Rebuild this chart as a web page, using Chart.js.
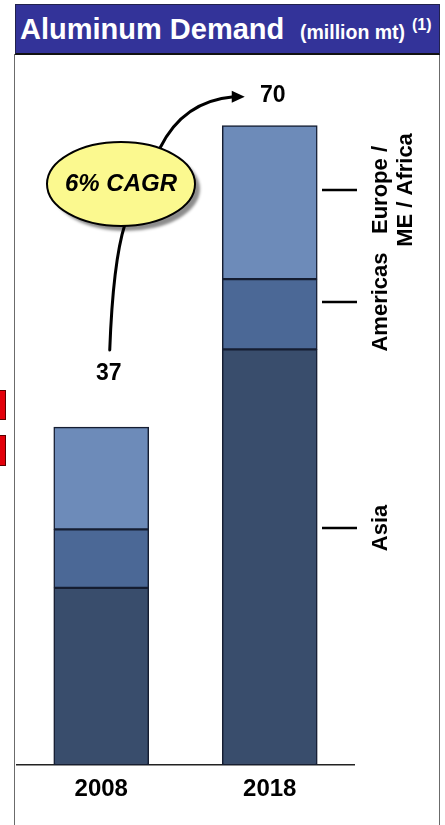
<!DOCTYPE html>
<html>
<head>
<meta charset="utf-8">
<title>Aluminum Demand</title>
<script src="https://cdn.jsdelivr.net/npm/chart.js@4/dist/chart.umd.min.js"></script>
<style>
  html, body { margin: 0; padding: 0; background: #fff; }
  body { width: 445px; height: 825px; position: relative; overflow: hidden;
         font-family: "Liberation Sans", Arial, sans-serif; }
  #frame { position: absolute; left: 14px; top: 54px; width: 426px; height: 790px;
           border-left: 1.5px solid #6b6b6b; border-right: 1.5px solid #6b6b6b; box-sizing: border-box; }
  #header { position: absolute; left: 15px; top: 4px; width: 425px; height: 51px;
            background: #333399; border: 1px solid #22224d; border-bottom: 2px solid #111;
            box-sizing: border-box; color: #fff; font-weight: bold; white-space: nowrap; }
  #header .main { position: absolute; left: 4px; top: 7px; font-size: 29px; line-height: 34px; }
  #header .unit { position: absolute; left: 284px; top: 15px; font-size: 19.5px; line-height: 24px; }
  #header .note { position: absolute; left: 396px; top: 10px; font-size: 16px; line-height: 19px; }
  #c { position: absolute; left: 0; top: 0; }
</style>
</head>
<body>
<div id="frame"></div>
<div id="header"><span class="main">Aluminum Demand</span><span class="unit">(million mt)</span><span class="note">(1)</span></div>
<canvas id="c" width="445" height="825"></canvas>
<script>
// Regional aluminum demand, million metric tonnes
const categories = ['2008', '2018'];
const asia = [19.4, 45.5];
const americas = [6.4, 7.7];
const europeMeAfrica = [11.2, 16.8];
const seriesLabels = [['Asia'], ['Americas'], ['Europe /', 'ME / Africa']];
const growthLabel = '6% CAGR';

const FONT = '"Liberation Sans", Arial, sans-serif';
const colors = ['#394d6c', '#4b6896', '#6d8bb9'];
const edge = '#151d31';

// Stack totals shown above each bar
const totals = categories.map((_, i) => asia[i] + americas[i] + europeMeAfrica[i]);

const overlay = {
  id: 'overlay',
  afterDraw(chart) {
    const ctx = chart.ctx;
    const topEls = chart.getDatasetMeta(2).data;
    ctx.save();

    // totals above bars
    const labelShift = [[7.5, -53], [3, -30]];
    ctx.font = 'bold 23px ' + FONT;
    ctx.fillStyle = '#000';
    ctx.textAlign = 'center';
    ctx.textBaseline = 'middle';
    const pos = topEls.map((el, i) => {
      const x = el.x + labelShift[i][0];
      const y = el.y + labelShift[i][1];
      ctx.fillText(String(Math.round(totals[i])), x, y);
      return { x, y };
    });

    // growth bubble with connector and arrow
    const cx = 121, cy = 184, rx = 74, ry = 42;
    ctx.lineCap = 'round';
    ctx.strokeStyle = '#000';
    ctx.lineWidth = 3;
    ctx.beginPath();
    ctx.moveTo(125, cy + ry - 2);
    ctx.quadraticCurveTo(113, 262, pos[0].x + 1, pos[0].y - 24);
    ctx.stroke();

    const tipX = pos[1].x - 28, tipY = pos[1].y + 1;
    ctx.beginPath();
    ctx.moveTo(160, cy - ry + 6);
    ctx.quadraticCurveTo(183, 101, tipX - 11, tipY);
    ctx.stroke();
    ctx.fillStyle = '#000';
    ctx.beginPath();
    ctx.moveTo(tipX, tipY);
    ctx.lineTo(tipX - 13, tipY - 6);
    ctx.lineTo(tipX - 13, tipY + 6);
    ctx.closePath();
    ctx.fill();

    ctx.save();
    ctx.shadowColor = 'rgba(0,0,0,0.45)';
    ctx.shadowOffsetX = 5;
    ctx.shadowOffsetY = 5;
    ctx.shadowBlur = 3;
    ctx.beginPath();
    ctx.ellipse(cx, cy, rx, ry, 0, 0, Math.PI * 2);
    ctx.fillStyle = '#fbf98f';
    ctx.fill();
    ctx.restore();
    ctx.lineWidth = 2;
    ctx.beginPath();
    ctx.ellipse(cx, cy, rx, ry, 0, 0, Math.PI * 2);
    ctx.stroke();
    ctx.fillStyle = '#000';
    ctx.font = 'italic bold 24px ' + FONT;
    ctx.fillText(growthLabel, cx, cy);

    // region key on the right
    const keyY = [528, 302, 190];
    ctx.lineWidth = 2.5;
    ctx.lineCap = 'butt';
    ctx.font = 'bold 22px ' + FONT;
    ctx.textAlign = 'center';
    ctx.textBaseline = 'alphabetic';
    seriesLabels.forEach((lines, i) => {
      ctx.beginPath();
      ctx.moveTo(322, keyY[i]);
      ctx.lineTo(357, keyY[i]);
      ctx.stroke();
      lines.forEach((txt, j) => {
        ctx.save();
        ctx.translate(387 + j * 25, keyY[i]);
        ctx.rotate(-Math.PI / 2);
        ctx.fillText(txt, 0, 0);
        ctx.restore();
      });
    });

    // red tabs on the left margin
    ctx.fillStyle = '#e3000b';
    ctx.strokeStyle = '#5a0000';
    ctx.lineWidth = 1;
    [[390, 30], [435, 31]].forEach(([y, h]) => {
      ctx.fillRect(0, y, 6, h);
      ctx.strokeRect(-1, y + 0.5, 6.5, h - 1);
    });

    ctx.restore();
  }
};

const mkSet = (label, data, i) => ({
  label, data,
  backgroundColor: colors[i],
  borderColor: edge,
  borderWidth: 1.5,
  borderSkipped: false,
  barThickness: 95
});

new Chart(document.getElementById('c'), {
  type: 'bar',
  data: {
    labels: categories,
    datasets: [
      mkSet(seriesLabels[0].join(' '), asia, 0),
      mkSet(seriesLabels[1].join(' '), americas, 1),
      mkSet(seriesLabels[2].join(' '), europeMeAfrica, 2)
    ]
  },
  options: {
    responsive: false,
    devicePixelRatio: 1,
    animation: false,
    layout: { padding: { left: 17, right: 91, top: 80, bottom: 0 } },
    plugins: { legend: { display: false }, tooltip: { enabled: false } },
    scales: {
      x: {
        stacked: true,
        grid: { display: false },
        border: { display: true, color: '#222', width: 1.5 },
        ticks: { color: '#000', padding: 2, font: { family: FONT, size: 24, weight: 'bold' } },
        afterFit(scale) { scale.height = 60; }
      },
      y: {
        stacked: true,
        display: false,
        min: 0,
        max: 75
      }
    }
  },
  plugins: [overlay]
});
</script>
</body>
</html>
